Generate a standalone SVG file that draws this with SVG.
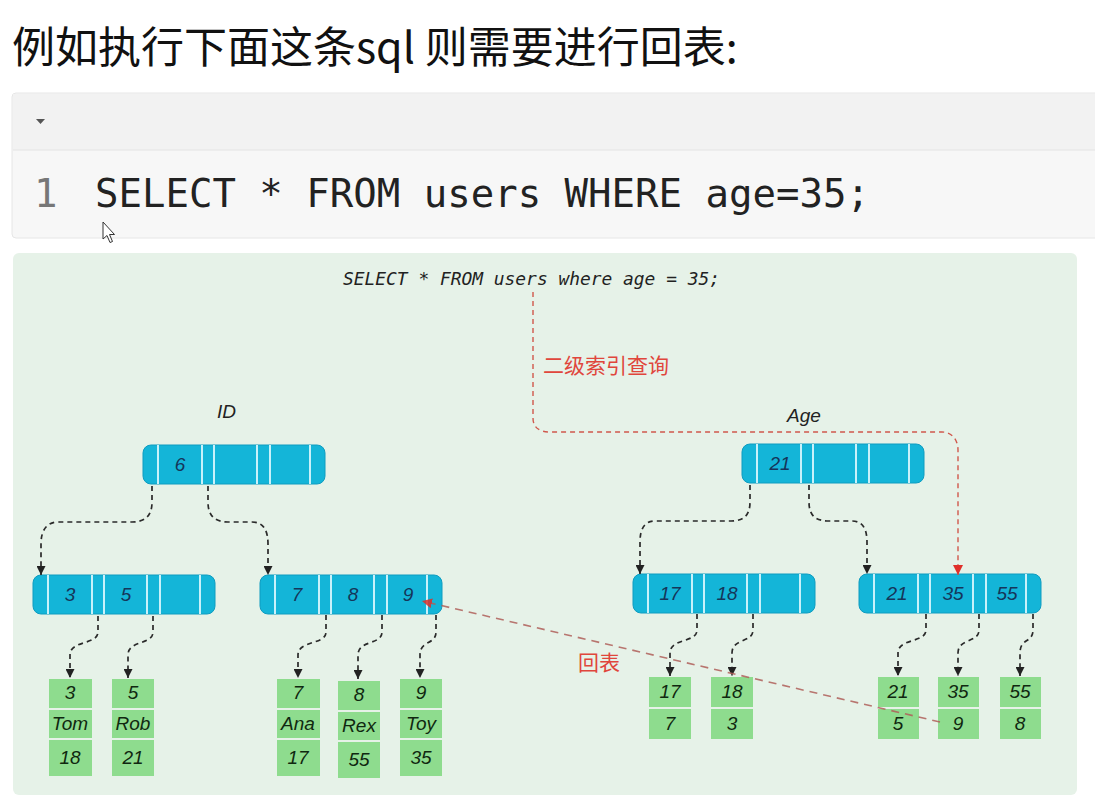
<svg xmlns="http://www.w3.org/2000/svg" width="1095" height="807" viewBox="0 0 1095 807">
<style>
.title{font-family:"Noto Sans CJK SC","Liberation Sans",sans-serif;font-size:43px;fill:#111}
.code{font-family:"DejaVu Sans Mono","Liberation Mono",monospace;font-size:39px;fill:#222}
.ln{font-family:"DejaVu Sans Mono","Liberation Mono",monospace;font-size:39px;fill:#777}
.sql{font-family:"DejaVu Sans Mono","Liberation Mono",monospace;font-style:italic;font-size:17.9px;fill:#222}
.hdr{font-family:"Liberation Sans",sans-serif;font-style:italic;font-size:19px;fill:#222}
.key{font-family:"Liberation Sans",sans-serif;font-style:italic;font-size:19px;fill:#15365a;text-anchor:middle}
.dat{font-family:"Liberation Sans",sans-serif;font-style:italic;font-size:19px;fill:#102810;text-anchor:middle}
.red{font-family:"Noto Sans CJK SC","Liberation Sans",sans-serif;font-size:21px;fill:#e0463c}
.nb{fill:#14b5d8;stroke:#0e9cc0;stroke-width:1}
.dv{stroke:#c9f1fa;stroke-width:2}
.g{fill:#8edc8e}
.blk{fill:none;stroke:#2a2a2a;stroke-width:1.7;stroke-dasharray:5 4}
.rd{fill:none;stroke:#d0584c;stroke-width:1.4;stroke-dasharray:5 4}
.rd2{fill:none;stroke:#b0605a;stroke-width:1.6;stroke-dasharray:8 6;opacity:0.85}
</style>
<defs>
<marker id="ab" viewBox="0 0 10 10" refX="10" refY="5" markerWidth="9" markerHeight="9" markerUnits="userSpaceOnUse" orient="auto"><path d="M0,0 L10,5 L0,10 z" fill="#222"/></marker>
<marker id="ar" viewBox="0 0 10 10" refX="10" refY="5" markerWidth="10" markerHeight="10" markerUnits="userSpaceOnUse" orient="auto"><path d="M0,0 L10,5 L0,10 z" fill="#e0302a"/></marker>
<g id="node">
<rect class="nb" x="0" y="0" width="182" height="39" rx="8"/>
<line class="dv" x1="15" y1="0" x2="15" y2="39"/>
<line class="dv" x1="59" y1="0" x2="59" y2="39"/>
<line class="dv" x1="71" y1="0" x2="71" y2="39"/>
<line class="dv" x1="114" y1="0" x2="114" y2="39"/>
<line class="dv" x1="127" y1="0" x2="127" y2="39"/>
<line class="dv" x1="167" y1="0" x2="167" y2="39"/>
</g>
</defs>
<rect width="1095" height="807" fill="#ffffff"/>
<text class="title" x="12" y="63">例如执行下面这条sql 则需要进行回表:</text>

<g id="codeblock">
<rect x="12" y="93" width="1090" height="145" rx="4" fill="#f7f7f7" stroke="#e6e6e6"/>
<rect x="13" y="94" width="1088" height="56" fill="#f2f2f2"/>
<line x1="13" y1="150" x2="1095" y2="150" stroke="#e4e4e4"/>
<path d="M36,119 L45,119 L40.5,124 z" fill="#555"/>
<text class="ln" x="34" y="207">1</text>
<text class="code" x="95" y="207">SELECT * FROM users WHERE age=35;</text>
<path d="M103,222 L103,239 L107,235.5 L110,242.5 L112.5,241.5 L109.5,234.5 L114.5,234.5 Z" fill="#fff" stroke="#333" stroke-width="1"/>
</g>

<rect x="13" y="253" width="1064" height="542" rx="6" fill="#e6f2e8"/>
<text class="sql" x="343" y="285">SELECT * FROM users where age = 35;</text>
<text class="hdr" x="217" y="418">ID</text>
<text class="hdr" x="787" y="422">Age</text>
<text class="red" x="543" y="373">二级索引查询</text>
<text class="red" x="578" y="670">回表</text>

<g id="id-root"><use href="#node" x="143" y="445"/><text class="key" x="180" y="471">6</text></g>
<g id="id-leaf1"><use href="#node" x="33" y="575"/><text class="key" x="70" y="601">3</text><text class="key" x="126" y="601">5</text></g>
<g id="id-leaf2"><use href="#node" x="260" y="575"/><text class="key" x="297" y="601">7</text><text class="key" x="353" y="601">8</text><text class="key" x="408" y="601">9</text></g>
<g id="age-root"><use href="#node" x="742" y="444"/><text class="key" x="780" y="470">21</text></g>
<g id="age-leaf1"><use href="#node" x="633" y="574"/><text class="key" x="670" y="600">17</text><text class="key" x="727" y="600">18</text></g>
<g id="age-leaf2"><use href="#node" x="859" y="574"/><text class="key" x="897" y="600">21</text><text class="key" x="953" y="600">35</text><text class="key" x="1007" y="600">55</text></g>

<g id="row-3">
<rect class="g" x="49" y="679" width="43" height="29"/><rect class="g" x="49" y="710" width="43" height="28"/><rect class="g" x="49" y="740" width="43" height="36"/>
<text class="dat" x="70" y="699">3</text><text class="dat" x="70" y="730">Tom</text><text class="dat" x="70" y="764">18</text>
</g>
<g id="row-5">
<rect class="g" x="112" y="679" width="42" height="29"/><rect class="g" x="112" y="710" width="42" height="28"/><rect class="g" x="112" y="740" width="42" height="36"/>
<text class="dat" x="133" y="699">5</text><text class="dat" x="133" y="730">Rob</text><text class="dat" x="133" y="764">21</text>
</g>
<g id="row-7">
<rect class="g" x="277" y="679" width="43" height="29"/><rect class="g" x="277" y="710" width="43" height="28"/><rect class="g" x="277" y="740" width="43" height="36"/>
<text class="dat" x="298" y="699">7</text><text class="dat" x="298" y="730">Ana</text><text class="dat" x="298" y="764">17</text>
</g>
<g id="row-8">
<rect class="g" x="338" y="681" width="42" height="29"/><rect class="g" x="338" y="712" width="42" height="28"/><rect class="g" x="338" y="742" width="42" height="36"/>
<text class="dat" x="359" y="701">8</text><text class="dat" x="359" y="732">Rex</text><text class="dat" x="359" y="766">55</text>
</g>
<g id="row-9">
<rect class="g" x="400" y="679" width="42" height="29"/><rect class="g" x="400" y="710" width="42" height="28"/><rect class="g" x="400" y="740" width="42" height="36"/>
<text class="dat" x="421" y="699">9</text><text class="dat" x="421" y="730">Toy</text><text class="dat" x="421" y="764">35</text>
</g>
<g id="age-17">
<rect class="g" x="649" y="677" width="42" height="30"/><rect class="g" x="649" y="709" width="42" height="30"/>
<text class="dat" x="670" y="698">17</text><text class="dat" x="670" y="730">7</text>
</g>
<g id="age-18">
<rect class="g" x="711" y="677" width="42" height="30"/><rect class="g" x="711" y="709" width="42" height="30"/>
<text class="dat" x="732" y="698">18</text><text class="dat" x="732" y="730">3</text>
</g>
<g id="age-21">
<rect class="g" x="878" y="677" width="41" height="30"/><rect class="g" x="878" y="709" width="41" height="30"/>
<text class="dat" x="898" y="698">21</text><text class="dat" x="898" y="730">5</text>
</g>
<g id="age-35">
<rect class="g" x="938" y="677" width="41" height="30"/><rect class="g" x="938" y="709" width="41" height="30"/>
<text class="dat" x="958" y="698">35</text><text class="dat" x="958" y="730">9</text>
</g>
<g id="age-55">
<rect class="g" x="1000" y="677" width="41" height="30"/><rect class="g" x="1000" y="709" width="41" height="30"/>
<text class="dat" x="1020" y="698">55</text><text class="dat" x="1020" y="730">8</text>
</g>

<g id="connectors">
<path class="blk" marker-end="url(#ab)" d="M152,486 L152,502 C152,516 145,522 132,522 L58,522 C47,522 41,530 41,544 L41,575"/>
<path class="blk" marker-end="url(#ab)" d="M208,486 L208,502 C208,516 215,522 228,522 L252,522 C263,522 268,530 268,544 L268,575"/>
<path class="blk" marker-end="url(#ab)" d="M750,485 L750,502 C750,515 744,521 731,521 L655,521 C645,521 640,528 640,542 L640,574"/>
<path class="blk" marker-end="url(#ab)" d="M809,485 L809,502 C809,515 815,521 829,521 L852,521 C862,521 867,528 867,542 L867,574"/>
<path class="blk" marker-end="url(#ab)" d="M98,616 L98,632 C98,645 70,640 70,655 L70,678"/>
<path class="blk" marker-end="url(#ab)" d="M153,616 L153,632 C153,645 128,640 128,655 L128,678"/>
<path class="blk" marker-end="url(#ab)" d="M326,615 L326,632 C326,645 298,640 298,655 L298,678"/>
<path class="blk" marker-end="url(#ab)" d="M382,615 L382,632 C382,645 358,640 358,655 L358,679"/>
<path class="blk" marker-end="url(#ab)" d="M436,615 L436,632 C436,645 420,640 420,655 L420,678"/>
<path class="blk" marker-end="url(#ab)" d="M697,614 L697,630 C697,643 670,638 670,653 L670,676"/>
<path class="blk" marker-end="url(#ab)" d="M753,614 L753,630 C753,643 732,638 732,653 L732,676"/>
<path class="blk" marker-end="url(#ab)" d="M926,614 L926,630 C926,643 898,638 898,653 L898,676"/>
<path class="blk" marker-end="url(#ab)" d="M979,614 L979,630 C979,643 958,638 958,653 L958,676"/>
<path class="blk" marker-end="url(#ab)" d="M1033,614 L1033,630 C1033,643 1020,638 1020,653 L1020,676"/>
<path class="rd" marker-end="url(#ar)" d="M533,292 L533,418 C533,428 540,432 550,432 L942,432 C952,432 958,440 958,450 L958,575"/>
<path class="rd2" marker-end="url(#ar)" d="M940,722 L422,601"/>
</g>
</svg>
